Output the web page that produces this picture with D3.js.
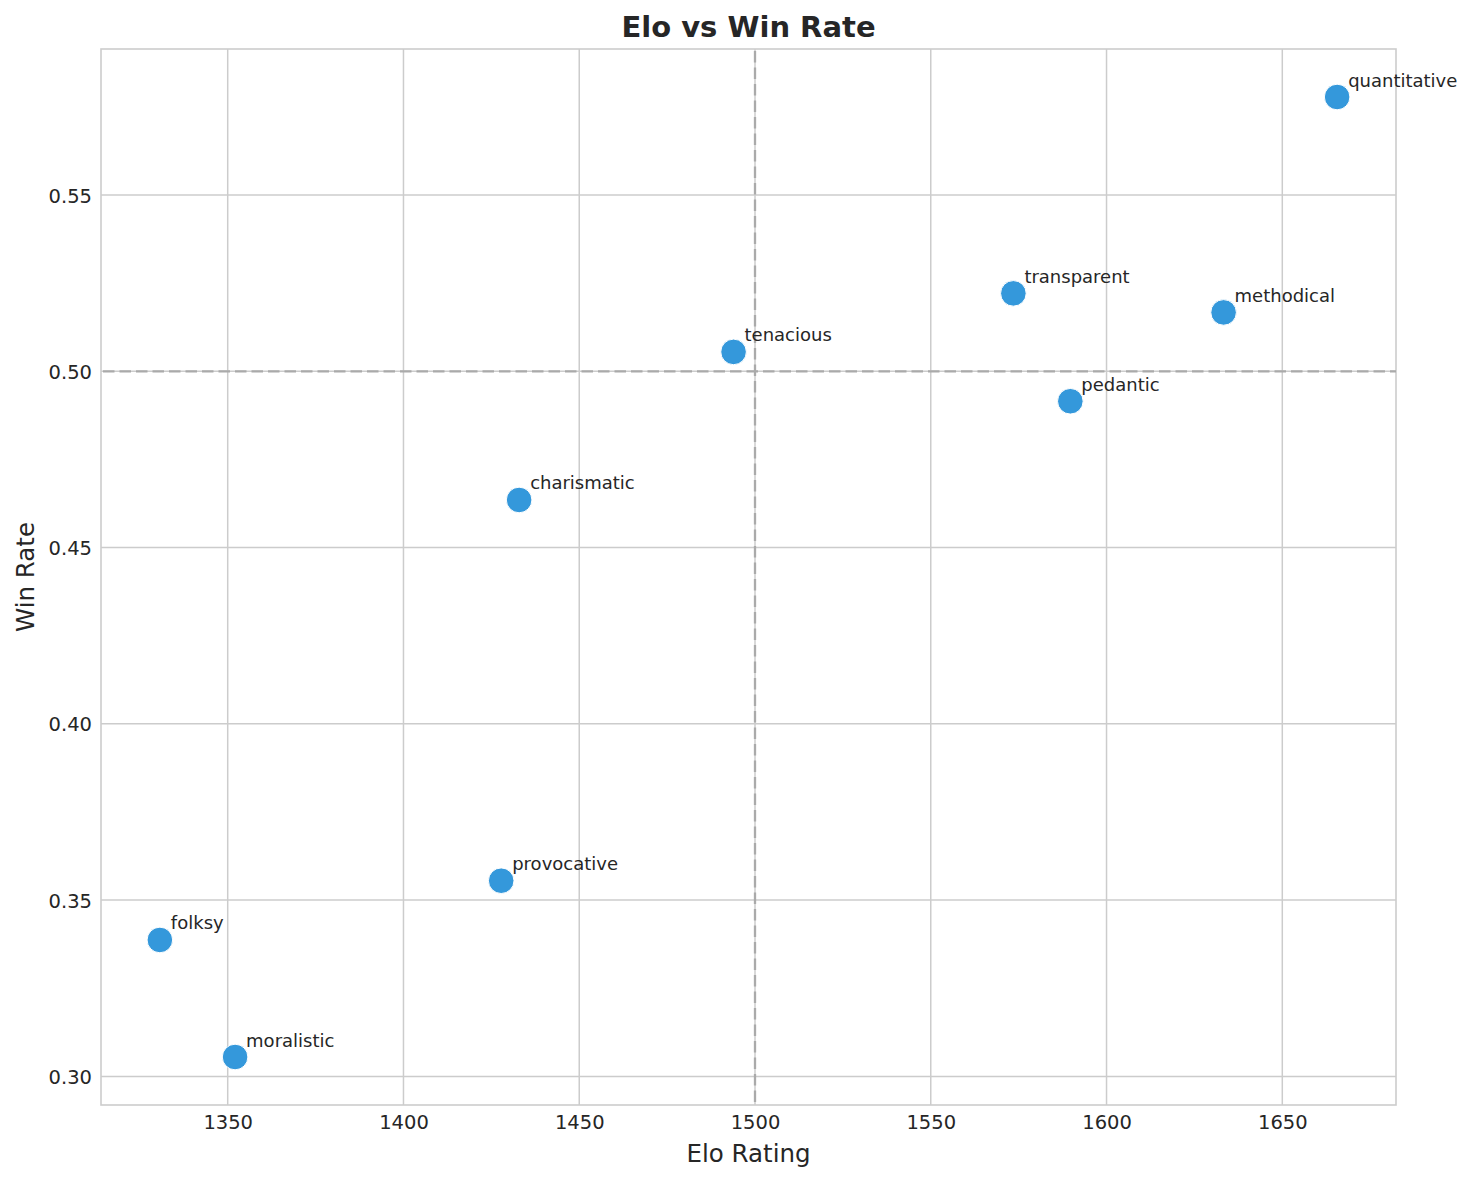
<!DOCTYPE html>
<html>
<head>
<meta charset="utf-8">
<script src="https://cdn.jsdelivr.net/npm/d3@7"></script>
<style>
  html, body { margin: 0; padding: 0; background: #fff; }
  svg { display: block; font-family: "DejaVu Sans", sans-serif; }
</style>
</head>
<body>
<svg id="chart" width="1476" height="1180"></svg>
<script>
const names = ["quantitative", "transparent", "methodical", "tenacious", "pedantic", "charismatic", "provocative", "folksy", "moralistic"];
const elo = [1665.6, 1573.5, 1633.3, 1493.9, 1589.7, 1432.9, 1427.8, 1330.7, 1352.1];
const winRate = [0.5778, 0.5221, 0.5167, 0.5055, 0.4915, 0.4635, 0.3555, 0.3387, 0.3055];
const xTicks = [1350, 1400, 1450, 1500, 1550, 1600, 1650];
const yTicks = [0.30, 0.35, 0.40, 0.45, 0.50, 0.55];
const refElo = 1500;
const refWin = 0.5;

const W = 1476, H = 1180;
const m = { left: 101, right: 80, top: 49, bottom: 75 };
const iw = W - m.left - m.right, ih = H - m.top - m.bottom;

function padded(arr) {
  const lo = d3.min(arr), hi = d3.max(arr), p = (hi - lo) * 0.05;
  return [lo - p, hi + p];
}

const x = d3.scaleLinear().domain(padded(elo)).range([0, iw]);
const y = d3.scaleLinear().domain(padded(winRate)).range([ih, 0]);

const svg = d3.select("#chart");
const g = svg.append("g").attr("transform", `translate(${m.left},${m.top})`);

const textColor = "#262626";
const gridColor = "#cccccc";

// grid
g.append("g").selectAll("line").data(xTicks).join("line")
  .attr("x1", d => x(d)).attr("x2", d => x(d)).attr("y1", 0).attr("y2", ih)
  .attr("stroke", gridColor).attr("stroke-width", 1.5);
g.append("g").selectAll("line").data(yTicks).join("line")
  .attr("y1", d => y(d)).attr("y2", d => y(d)).attr("x1", 0).attr("x2", iw)
  .attr("stroke", gridColor).attr("stroke-width", 1.5);

// axes (tick labels)
const xAxis = g.append("g").attr("transform", `translate(0,${ih})`)
  .call(d3.axisBottom(x).tickValues(xTicks).tickFormat(d3.format("d")).tickSize(0).tickPadding(24));
const yAxis = g.append("g")
  .call(d3.axisLeft(y).tickValues(yTicks).tickFormat(d3.format(".2f")).tickSize(0).tickPadding(9));
[xAxis, yAxis].forEach(a => {
  a.select(".domain").remove();
  a.selectAll("text").attr("fill", textColor).style("font-size", "19.5px").style("font-family", "DejaVu Sans");
});
xAxis.selectAll("text").attr("dy", "0");
yAxis.selectAll("text").attr("dy", "0.36em");

// spines
g.append("rect").attr("x", 0).attr("y", 0).attr("width", iw).attr("height", ih)
  .attr("fill", "none").attr("stroke", gridColor).attr("stroke-width", 1.6);

// reference lines
g.append("line").attr("x1", x(refElo)).attr("x2", x(refElo)).attr("y1", 2).attr("y2", ih)
  .attr("stroke", "#aaaaaa").attr("stroke-width", 2.3).attr("stroke-dasharray", "11.5,5");
g.append("line").attr("y1", y(refWin)).attr("y2", y(refWin)).attr("x1", 2).attr("x2", iw)
  .attr("stroke", "#aaaaaa").attr("stroke-width", 2.3).attr("stroke-dasharray", "11.5,5");

// points
const data = names.map((n, i) => ({ name: n, elo: elo[i], wr: winRate[i] }));
g.append("g").selectAll("circle").data(data).join("circle")
  .attr("cx", d => x(d.elo)).attr("cy", d => y(d.wr)).attr("r", 12.8)
  .attr("fill", "#3498db").attr("stroke", "#ffffff").attr("stroke-width", 1);

// labels
g.append("g").selectAll("text").data(data).join("text")
  .attr("x", d => x(d.elo) + 11).attr("y", d => y(d.wr) - 10.5)
  .attr("fill", textColor).style("font-size", "18px")
  .text(d => d.name);

// title
svg.append("text").attr("x", m.left + iw / 2).attr("y", 37).attr("text-anchor", "middle")
  .attr("fill", textColor).style("font-size", "29px").style("font-weight", "bold")
  .text("Elo vs Win Rate");

// axis labels
svg.append("text").attr("x", m.left + iw / 2).attr("y", 1162).attr("text-anchor", "middle")
  .attr("fill", textColor).style("font-size", "24.5px").text("Elo Rating");
svg.append("text").attr("transform", `translate(34,${m.top + ih / 2}) rotate(-90)`)
  .attr("text-anchor", "middle").attr("fill", textColor).style("font-size", "24.5px").text("Win Rate");
</script>
</body>
</html>
